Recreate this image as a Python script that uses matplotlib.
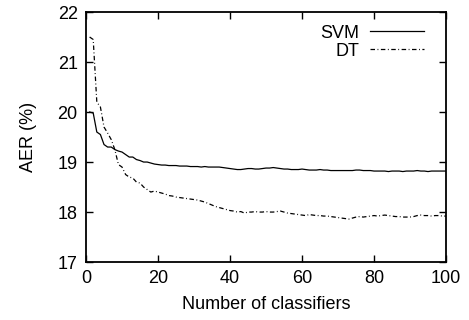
import matplotlib.pyplot as plt
import matplotlib as mpl

# number of classifiers in the ensemble
n_classifiers = list(range(1, 101))

svm_aer = [20.0, 19.98, 19.6, 19.55, 19.35, 19.3, 19.3, 19.25, 19.22, 19.2,
           19.15, 19.1, 19.1, 19.05, 19.03, 19.0, 19.0, 18.98, 18.96, 18.95,
           18.94, 18.94, 18.93, 18.93, 18.93, 18.92, 18.92, 18.92, 18.91, 18.91,
           18.91, 18.9, 18.91, 18.9, 18.9, 18.9, 18.9, 18.89, 18.88, 18.87,
           18.86, 18.85, 18.85, 18.86, 18.87, 18.87, 18.86, 18.86, 18.87, 18.88,
           18.88, 18.89, 18.88, 18.87, 18.86, 18.86, 18.85, 18.85, 18.85, 18.86,
           18.85, 18.84, 18.84, 18.84, 18.85, 18.84, 18.84, 18.83, 18.83, 18.83,
           18.83, 18.83, 18.83, 18.83, 18.84, 18.84, 18.83, 18.83, 18.83, 18.82,
           18.82, 18.82, 18.82, 18.81, 18.82, 18.82, 18.82, 18.81, 18.82, 18.82,
           18.82, 18.83, 18.82, 18.82, 18.81, 18.82, 18.82, 18.82, 18.82, 18.82]

dt_aer = [21.5, 21.45, 20.2, 20.1, 19.7, 19.58, 19.45, 19.25, 18.95, 18.9,
          18.75, 18.7, 18.68, 18.6, 18.58, 18.5, 18.45, 18.4, 18.42, 18.4,
          18.38, 18.36, 18.33, 18.32, 18.3, 18.29, 18.28, 18.27, 18.26, 18.25,
          18.24, 18.22, 18.2, 18.17, 18.14, 18.11, 18.09, 18.07, 18.05, 18.03,
          18.02, 18.0, 18.01, 17.98, 18.0, 18.0, 18.01, 18.0, 18.0, 18.01,
          18.0, 18.0, 18.01, 18.02, 18.0, 17.98, 17.97, 17.96, 17.95, 17.94,
          17.93, 17.95, 17.94, 17.93, 17.93, 17.92, 17.92, 17.91, 17.9, 17.89,
          17.88, 17.87, 17.86, 17.88, 17.9, 17.91, 17.9, 17.91, 17.92, 17.93,
          17.92, 17.93, 17.94, 17.93, 17.92, 17.91, 17.91, 17.9, 17.9, 17.9,
          17.91, 17.93, 17.94, 17.93, 17.93, 17.92, 17.93, 17.93, 17.92, 17.92]

mpl.rcParams.update({"font.family": "Liberation Sans", "font.size": 13})

fig = plt.figure(figsize=(4.69, 3.2), dpi=100)
ax = fig.add_axes([0.1834, 0.181, 0.7676, 0.7815])

ax.plot(n_classifiers, svm_aer, color="black", lw=0.9, label="SVM")
ax.plot(n_classifiers, dt_aer, color="black", lw=0.9, dashes=[3.6, 2.0, 0.7, 2.0], label="DT")

ax.set_xlim(0, 100)
ax.set_ylim(17, 22)
ax.set_xticks(range(0, 101, 20))
ax.set_yticks(range(17, 23))
ax.tick_params(direction="in", length=5, width=1, top=True, right=True, pad=6)
for s in ax.spines.values():
    s.set_linewidth(1.3)

ax.set_xlabel("Number of classifiers", labelpad=6)
ax.set_ylabel("AER (%)", labelpad=15)

ax.legend(loc="upper right", frameon=False, markerfirst=False, handlelength=3.0,
          handletextpad=0.6, labelspacing=0.05, borderaxespad=0.3,
          bbox_to_anchor=(0.975, 1.0))

fig.savefig("out.png", dpi=100)
